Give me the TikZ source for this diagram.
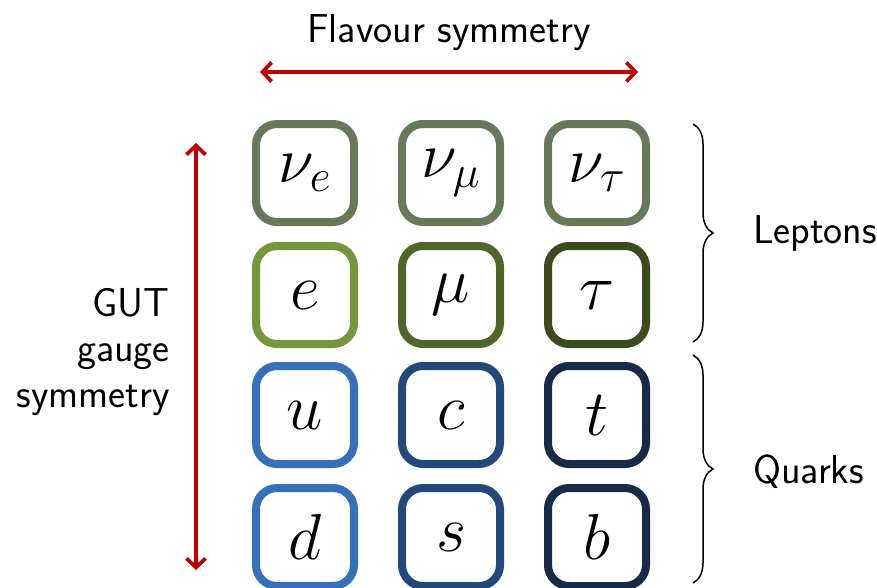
\documentclass[tikz,border=0pt]{standalone}
\usepackage{fix-cm}
\usepackage{tikz}
\usetikzlibrary{arrows.meta, positioning, decorations.pathreplacing}
\usepackage{xcolor}
\definecolor{gutred}{HTML}{C00000}
\definecolor{nugray}{HTML}{667A5B}
\definecolor{legreen}{HTML}{76963C}
\definecolor{mugreen}{HTML}{4E6629}
\definecolor{taugreen}{HTML}{3B4A1F}
\definecolor{upblue}{HTML}{3571B8}
\definecolor{chblue}{HTML}{23497B}
\definecolor{topblue}{HTML}{172A48}

\begin{document}
\begin{tikzpicture}[
    font=\sffamily\fontsize{23}{26}\selectfont,
    particle/.style={draw=#1, line width=0.16cm, rounded corners=0.42cm,
                     minimum size=1.96cm, inner sep=0pt,
                     font=\fontsize{37}{40}\selectfont},
    symarrow/.style={{Straight Barb[length=1.8mm, width=3.8mm]}-{Straight Barb[length=1.8mm, width=3.8mm]},
                     line width=0.075cm, gutred},
    groupbrace/.style={decorate, decoration={brace, amplitude=0.4cm},
                       line width=0.03cm},
  ]
    \useasboundingbox (0,0) rectangle (17.54,-11.74);

    % leptons
    \node[particle=nugray] (ne) at (6.1,-3.46) {$\nu_e$};
    \node[particle=nugray] (nm) at (9.02,-3.46) {$\nu_\mu$};
    \node[particle=nugray] (nt) at (11.94,-3.46) {$\nu_\tau$};
    \node[particle=legreen] (el) at (6.1,-5.9) {$e$};
    \node[particle=mugreen] (mu) at (9.02,-5.9) {$\mu$};
    \node[particle=taugreen] (ta) at (11.94,-5.9) {$\tau$};
    % quarks
    \node[particle=upblue] (up) at (6.1,-8.3) {$u$};
    \node[particle=chblue] (ch) at (9.02,-8.3) {$c$};
    \node[particle=topblue] (tp) at (11.94,-8.3) {$t$};
    \node[particle=upblue] (dn) at (6.1,-10.74) {$d$};
    \node[particle=chblue] (st) at (9.02,-10.74) {$s$};
    \node[particle=topblue] (bt) at (11.94,-10.74) {$b$};

    % flavour symmetry
    \coordinate (fl) at (5.2,-1.44);
    \coordinate (fr) at (12.76,-1.44);
    \draw[symarrow] (fl) -- (fr);
    \node (flav) at (8.98,-0.66) {Flavour symmetry};

    % GUT symmetry
    \coordinate (gt) at (3.92,-2.86);
    \coordinate (gb) at (3.92,-11.4);
    \draw[symarrow] (gt) -- (gb);
    \node[align=right, anchor=east] (gut) at (3.52,-7.04)
      {GUT\\gauge\\symmetry};

    % groups
    \coordinate (lt) at (13.86,-2.48);
    \coordinate (lb) at (13.86,-6.84);
    \coordinate (qt) at (13.86,-7.1);
    \coordinate (qb) at (13.86,-11.66);
    \draw[groupbrace] (lt) -- (lb);
    \draw[groupbrace] (qt) -- (qb);
    \node[anchor=west] (lep) at (14.94,-4.66) {Leptons};
    \node[anchor=west] (qrk) at (14.94,-9.44) {Quarks};
  \end{tikzpicture}
\end{document}
